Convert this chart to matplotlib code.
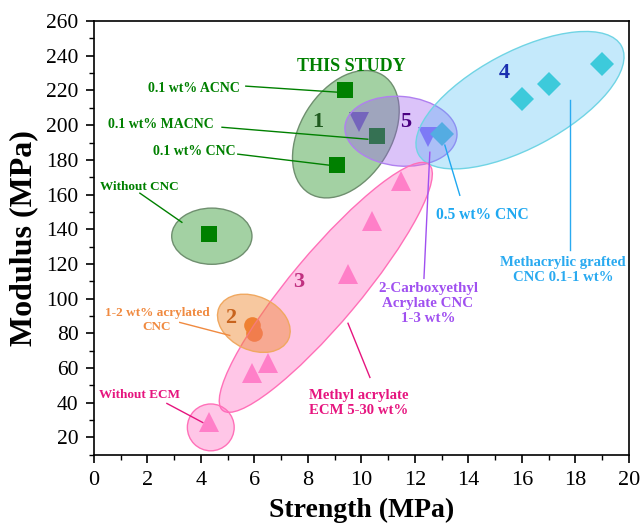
import matplotlib
matplotlib.use('Agg')
import matplotlib.pyplot as plt
from matplotlib.patches import Ellipse
from matplotlib.transforms import Affine2D
from matplotlib.ticker import MultipleLocator

plt.rcParams['font.family'] = ['Liberation Serif', 'DejaVu Serif']

# Strength (MPa), Modulus (MPa) for each group
cnc_x = [4.3, 9.1, 10.6, 9.4]          # this study, squares
cnc_y = [137, 177, 194, 220]
ecm_x = [4.3, 5.9, 6.5, 9.5, 10.4, 11.5]   # methyl acrylate ECM, triangles
ecm_y = [29, 57, 63, 114, 145, 168]
acr_x = [5.9, 6.0]                      # acrylated CNC, circles
acr_y = [85, 80]
cea_x = [9.9, 12.5]                     # 2-carboxyethyl acrylate, down triangles
cea_y = [202, 193]
mag_x = [13.0, 16.0, 17.0, 19.0]        # methacrylic grafted, diamonds
mag_y = [195, 215, 224, 235]

fig = plt.figure(figsize=(6.43, 5.27), dpi=100)
ax = fig.add_axes([0.146, 0.137, 0.832, 0.823])
ax.set_xlim(0, 20)
ax.set_ylim(10, 260)

# markers
ax.plot(cnc_x, cnc_y, 's', color='#008000', ms=12, mew=0, zorder=2)
ax.plot(ecm_x, ecm_y, '^', color='#ff8fcd', ms=15, mew=0, zorder=2)
ax.plot(acr_x, acr_y, 'o', color='#f07a30', ms=12, mew=0, zorder=2)
ax.plot(cea_x, cea_y, 'v', color='#9a66fc', ms=15, mew=0, zorder=2)
ax.plot(mag_x, mag_y, 'D', color='#3ed3d1', ms=12, mew=0, zorder=2)

# ellipses drawn in a visually square frame (y squeezed by ky)
bb = ax.get_position()
W = bb.width * 643
H = bb.height * 527
ky = (250 / H) / (20 / W)
tr = Affine2D().scale(1, ky) + ax.transData

# (cx, cy, width, height, angle, face, alpha, edge)
shapes = [
    (9.42, 194.8, 5.2, 3.4, 58, '#008000', 0.36, '#6f8f6f'),
    (4.41, 136.0, 3.0, 2.1, 0, '#008000', 0.36, '#6f8f6f'),
    (11.48, 196.5, 4.2, 2.6, -5, '#9a55f0', 0.35, '#b080f0'),
    (15.93, 214.4, 8.6, 3.6, 28, '#3db8f5', 0.30, '#70d4e4'),
    (8.67, 106.5, 12.0, 2.6, 50, '#ff66c0', 0.37, '#ff70b8'),
    (5.98, 85.8, 2.85, 2.0, -25, '#ee8a33', 0.47, '#f0a860'),
    (4.37, 25.8, 1.75, 1.75, 0, '#ff66c0', 0.37, '#ff70b8'),
]
for cx, cy, w, h, ang, fc, al, ec in shapes:
    e = Ellipse((cx, cy / ky), w, h, angle=ang, transform=tr,
                facecolor=fc, alpha=al, edgecolor='none', zorder=3)
    ax.add_patch(e)
    e2 = Ellipse((cx, cy / ky), w, h, angle=ang, transform=tr,
                 facecolor='none', edgecolor=ec, lw=1.0, zorder=3)
    ax.add_patch(e2)

# group numbers
nums = [('1', 8.37, 201.7, '#1f5a1f'), ('5', 11.66, 201.7, '#4b0082'),
        ('4', 15.33, 230, '#1a2fb0'), ('3', 7.66, 109.4, '#c03080'),
        ('2', 5.12, 88.7, '#c8641e')]
for t, x, y, c in nums:
    ax.text(x, y, t, color=c, fontsize=16, fontweight='bold',
            ha='center', va='center', zorder=4)

ax.text(9.64, 234.0, 'THIS STUDY', color='#008000', fontsize=13,
        fontweight='bold', ha='center', va='center', zorder=4)

# labels with leader lines: text, tx, ty, ha, size, x1, y1, x2, y2, colour
notes = [
    ('0.1 wt% ACNC', 5.46, 221.3, 'right', 10, 5.68, 222.5, 9.12, 219.0, '#008000'),
    ('0.1 wt% MACNC', 2.50, 200.6, 'center', 10, 4.79, 198.8, 10.24, 191.9, '#008000'),
    ('0.1 wt% CNC', 3.74, 185.0, 'center', 10, 5.38, 183.3, 8.82, 176.9, '#008000'),
    ('Without CNC', 1.68, 164.2, 'center', 9.5, 1.72, 160.8, 3.29, 144.0, '#008000'),
    ('1-2 wt% acrylated\nCNC', 2.36, 87.5, 'center', 9.5, 3.21, 86.3, 5.08, 78.8, '#f08a40'),
    ('Without ECM', 1.72, 44.2, 'center', 9.5, 2.73, 39.6, 4.07, 28.6, '#e6157f'),
    ('Methyl acrylate\nECM 5-30 wt%', 9.9, 39.8, 'center', 10.6, 9.50, 85.8, 10.32, 54.6, '#e6157f'),
    ('2-Carboxyethyl\nAcrylate CNC\n1-3 wt%', 12.49, 97.3, 'center', 10.8, 12.56, 184.4, 12.34, 111.7, '#a050f0'),
    ('0.5 wt% CNC', 14.54, 148.0, 'center', 11.2, 13.12, 188.5, 13.68, 159.6, '#1fa8f0'),
    ('Methacrylic grafted\nCNC 0.1-1 wt%', 17.53, 116.3, 'center', 10.6, 17.79, 214.4, 17.79, 127.9, '#2aaaf0'),
]
for t, tx, ty, ha, fs, x1, y1, x2, y2, c in notes:
    ax.text(tx, ty, t, color=c, fontsize=fs, fontweight='bold', ha=ha,
            va='center', multialignment='center', linespacing=1.2, zorder=4)
    ax.plot([x1, x2], [y1, y2], color=c, lw=1.0, zorder=4)

ax.xaxis.set_major_locator(MultipleLocator(2))
ax.xaxis.set_minor_locator(MultipleLocator(1))
ax.yaxis.set_minor_locator(MultipleLocator(10))
ax.set_yticks(range(20, 261, 20))
ax.tick_params(which='major', direction='out', length=6, width=1.2)
ax.tick_params(which='minor', direction='out', length=3.5, width=1.0)
ax.tick_params(axis='x', which='major', labelsize=16, pad=6)
ax.tick_params(axis='y', which='major', labelsize=15.5, pad=5)
for s in ax.spines.values():
    s.set_linewidth(1.2)

ax.set_xlabel('Strength (MPa)', fontsize=20, fontweight='bold', labelpad=5)
ax.set_ylabel('Modulus (MPa)', fontsize=23, fontweight='bold', labelpad=6)

fig.savefig('out.png', dpi=100)
